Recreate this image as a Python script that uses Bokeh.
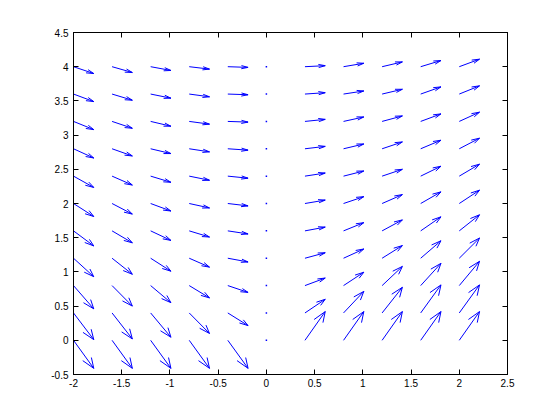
from bokeh.plotting import figure
from bokeh.models import FixedTicker, LinearAxis, Range1d
from bokeh.embed import file_html
from bokeh.resources import INLINE

# grid positions
X_GRID = [-2.0, -1.6, -1.2, -0.8, -0.4, 0.0, 0.4, 0.8, 1.2, 1.6, 2.0]
Y_GRID = [0.0, 0.4, 0.8, 1.2, 1.6, 2.0, 2.4, 2.8, 3.2, 3.6, 4.0]

# horizontal component (same for every row)
U_ROW = [0.21, 0.21, 0.21, 0.21, 0.21, 0.0, 0.21, 0.21, 0.21, 0.21, 0.21]

# vertical component, one row per Y_GRID value
V = [
    [-0.41, -0.41, -0.41, -0.41, -0.41, 0.0, 0.42, 0.42, 0.42, 0.42, 0.42],
    [-0.39, -0.38, -0.355, -0.30, -0.185, 0.0, 0.20, 0.315, 0.375, 0.41, 0.41],
    [-0.34, -0.30, -0.25, -0.18, -0.10, 0.0, 0.11, 0.195, 0.28, 0.325, 0.355],
    [-0.27, -0.235, -0.19, -0.13, -0.055, 0.0, 0.08, 0.135, 0.185, 0.255, 0.295],
    [-0.22, -0.175, -0.14, -0.09, -0.045, 0.0, 0.055, 0.12, 0.16, 0.205, 0.235],
    [-0.19, -0.155, -0.11, -0.065, -0.035, 0.0, 0.05, 0.10, 0.13, 0.17, 0.195],
    [-0.165, -0.13, -0.09, -0.06, -0.03, 0.0, 0.045, 0.075, 0.10, 0.145, 0.175],
    [-0.135, -0.105, -0.07, -0.045, -0.02, 0.0, 0.035, 0.07, 0.10, 0.125, 0.155],
    [-0.12, -0.10, -0.07, -0.04, -0.01, 0.0, 0.03, 0.065, 0.08, 0.11, 0.135],
    [-0.11, -0.09, -0.06, -0.04, -0.01, 0.0, 0.02, 0.045, 0.07, 0.105, 0.12],
    [-0.10, -0.085, -0.055, -0.035, -0.01, 0.0, 0.015, 0.05, 0.07, 0.09, 0.11],
]

X_TICKS = [-2, -1.5, -1, -0.5, 0, 0.5, 1, 1.5, 2, 2.5]
X_LABELS = ["-2", "-1.5", "-1", "-0.5", "0", "0.5", "1", "1.5", "2", "2.5"]
Y_TICKS = [-0.5, 0, 0.5, 1, 1.5, 2, 2.5, 3, 3.5, 4, 4.5]
Y_LABELS = ["-0.5", "0", "0.5", "1", "1.5", "2", "2.5", "3", "3.5", "4", "4.5"]

ALPHA = 0.33
BETA = 0.33

shaft_xs, shaft_ys, head_xs, head_ys = [], [], [], []
dot_x, dot_y = [], []
for i, y in enumerate(Y_GRID):
    for j, x in enumerate(X_GRID):
        u = U_ROW[j]
        v = V[i][j]
        if u == 0 and v == 0:
            dot_x.append(x)
            dot_y.append(y)
            continue
        tx, ty = x + u, y + v
        shaft_xs.append([x, tx])
        shaft_ys.append([y, ty])
        head_xs.append([tx - ALPHA * (u + BETA * v), tx, tx - ALPHA * (u - BETA * v)])
        head_ys.append([ty - ALPHA * (v - BETA * u), ty, ty - ALPHA * (v + BETA * u)])

p = figure(width=544, height=404, output_backend="svg", toolbar_location=None,
           x_range=Range1d(-2, 2.5), y_range=Range1d(-0.5, 4.5),
           min_border_left=73, min_border_right=37, min_border_top=32, min_border_bottom=30)
p.grid.visible = False
p.outline_line_color = "black"
p.outline_line_width = 1

blue = "#0000ff"
p.multi_line(shaft_xs, shaft_ys, line_color=blue, line_width=1)
p.multi_line(head_xs, head_ys, line_color=blue, line_width=1)
p.scatter(dot_x, dot_y, marker="square", size=1.5, color=blue, line_width=0)

FONT = "Liberation Sans"

def style(ax, ticks, labels, show):
    ax.ticker = FixedTicker(ticks=ticks)
    if show:
        ax.major_label_overrides = {t: l for t, l in zip(ticks, labels)}
    else:
        ax.major_label_overrides = {t: "" for t in ticks}
    ax.minor_tick_line_color = None
    ax.major_tick_in = 5
    ax.major_tick_out = 0
    ax.axis_line_color = "black"
    ax.major_tick_line_color = "black"
    ax.major_label_text_font = FONT
    ax.major_label_text_color = "black"
    ax.major_label_text_font_size = "10px"

style(p.xaxis[0], X_TICKS, X_LABELS, True)
p.xaxis[0].major_label_standoff = 4
style(p.yaxis[0], Y_TICKS, Y_LABELS, True)
p.yaxis[0].major_label_standoff = 5

top = LinearAxis()
style(top, X_TICKS, X_LABELS, False)
p.add_layout(top, "above")
right = LinearAxis()
style(right, Y_TICKS, Y_LABELS, False)
p.add_layout(right, "right")

open("out.html", "w").write(file_html(p, INLINE))
